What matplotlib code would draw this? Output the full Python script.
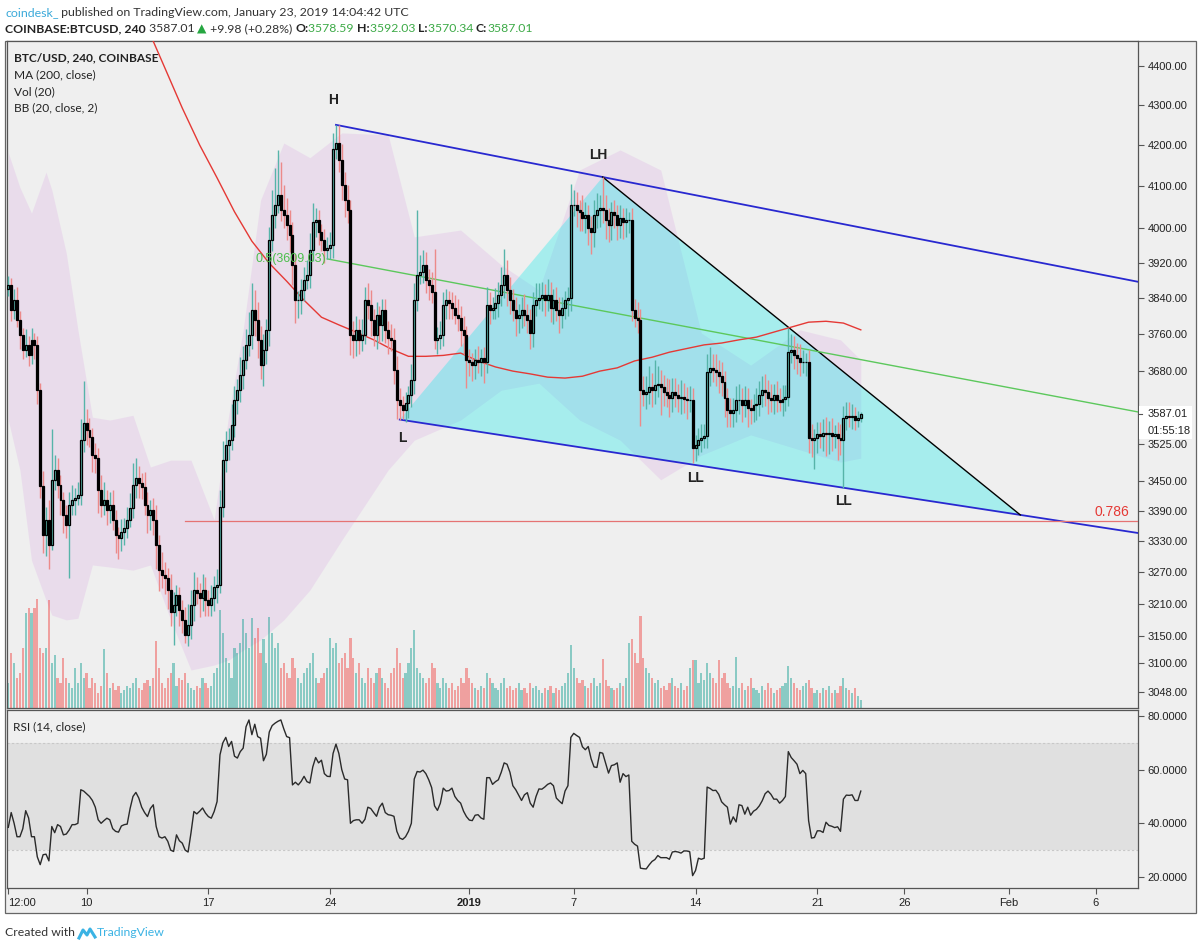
import numpy as np
import pandas as pd
import matplotlib
matplotlib.use("Agg")
import matplotlib.pyplot as plt
from matplotlib.patches import Rectangle, Polygon
from matplotlib.collections import PatchCollection
from matplotlib.lines import Line2D
from matplotlib.transforms import blended_transform_factory
from matplotlib.ticker import FixedLocator, NullLocator, FixedFormatter, NullFormatter

plt.rcParams['font.family'] = ['Liberation Sans', 'DejaVu Sans']

# ---------------- data (4h candles, COINBASE BTC/USD) ----------------
first_bar_time = '2018-12-05 12:00'
first_open = 3860.0
close = [
    3870, 3813, 3835, 3791, 3758, 3725, 3736, 3714, 3747, 3736,
    3638, 3440, 3342, 3372, 3322, 3452, 3472, 3441, 3412, 3382,
    3362, 3402, 3412, 3416, 3422, 3533, 3568, 3554, 3539, 3502,
    3496, 3431, 3402, 3412, 3391, 3402, 3372, 3342, 3336, 3348,
    3356, 3372, 3395, 3441, 3456, 3446, 3438, 3402, 3382, 3391,
    3372, 3322, 3274, 3265, 3259, 3236, 3194, 3207, 3226, 3198,
    3180, 3152, 3170, 3207, 3236, 3230, 3221, 3236, 3217, 3207,
    3221, 3242, 3246, 3397, 3492, 3523, 3533, 3564, 3617, 3638,
    3670, 3703, 3736, 3758, 3813, 3791, 3747, 3692, 3725, 3769,
    3973, 4031, 4055, 4079, 4043, 4031, 4007, 3984, 3915, 3835,
    3835, 3858, 3881, 3892, 3949, 4014, 4019, 3991, 3973, 3949,
    3954, 3961, 4190, 4205, 4163, 4103, 4067, 4043, 3758, 3747,
    3769, 3747, 3758, 3835, 3824, 3791, 3758, 3802, 3780, 3813,
    3769, 3751, 3747, 3681, 3617, 3606, 3596, 3610, 3627, 3660,
    3835, 3892, 3899, 3915, 3881, 3870, 3853, 3747, 3751, 3758,
    3824, 3835, 3828, 3817, 3802, 3796, 3769, 3758, 3703, 3699,
    3692, 3703, 3699, 3707, 3699, 3824, 3813, 3817, 3828, 3847,
    3870, 3892, 3858, 3835, 3813, 3796, 3802, 3813, 3802, 3791,
    3762, 3824, 3835, 3840, 3847, 3835, 3847, 3817, 3835, 3813,
    3802, 3817, 3835, 3840, 4055, 4055, 4043, 4038, 4024, 4031,
    4000, 3991, 4031, 4043, 4048, 4043, 4019, 4007, 4038, 4031,
    4007, 4024, 4014, 4019, 4019, 3813, 3796, 3791, 3638, 3629,
    3634, 3645, 3638, 3649, 3651, 3645, 3634, 3627, 3622, 3634,
    3627, 3622, 3624, 3620, 3617, 3617, 3517, 3523, 3533, 3537,
    3541, 3677, 3686, 3681, 3677, 3668, 3655, 3622, 3596, 3590,
    3596, 3617, 3617, 3606, 3617, 3600, 3596, 3606, 3608, 3627,
    3638, 3634, 3622, 3617, 3627, 3617, 3613, 3620, 3624, 3721,
    3725, 3714, 3707, 3699, 3699, 3699, 3537, 3533, 3537, 3545,
    3541, 3547, 3545, 3549, 3541, 3545, 3537, 3533, 3579, 3583,
    3581, 3583, 3575, 3578.59, 3587.01,
]
up_wick = [
    20, 15, 25, 30, 20, 15, 35, 20, 25, 15,
    20, 15, 30, 25, 40, 104, 30, 25, 20, 15,
    20, 25, 30, 20, 25, 45, 90, 30, 25, 20,
    25, 20, 30, 35, 20, 25, 30, 20, 15, 25,
    20, 25, 30, 45, 40, 25, 20, 30, 25, 20,
    25, 30, 20, 35, 25, 20, 30, 25, 20, 15,
    20, 25, 40, 30, 35, 25, 20, 30, 25, 20,
    25, 20, 30, 35, 40, 30, 25, 45, 30, 25,
    40, 30, 35, 50, 60, 45, 40, 30, 35, 25,
    30, 60, 90, 110, 80, 60, 40, 35, 30, 25,
    20, 25, 30, 35, 40, 45, 30, 25, 20, 25,
    25, 30, 40, 45, 45, 40, 30, 35, 25, 30,
    30, 25, 35, 30, 40, 35, 25, 30, 20, 25,
    25, 20, 30, 25, 30, 25, 20, 25, 20, 35,
    40, 150, 40, 35, 30, 25, 30, 98, 25, 30,
    30, 25, 20, 25, 30, 35, 25, 30, 20, 25,
    20, 25, 30, 20, 25, 40, 30, 25, 35, 30,
    40, 60, 35, 30, 25, 30, 25, 30, 35, 25,
    25, 30, 40, 35, 30, 25, 35, 30, 25, 30,
    30, 25, 20, 25, 50, 35, 30, 25, 40, 30,
    25, 30, 35, 40, 30, 75, 35, 30, 25, 30,
    25, 30, 25, 30, 20, 30, 25, 35, 25, 30,
    35, 45, 30, 55, 40, 30, 25, 30, 35, 30,
    30, 25, 35, 30, 25, 30, 25, 20, 25, 30,
    25, 40, 45, 30, 35, 25, 30, 25, 20, 25,
    25, 30, 35, 25, 30, 25, 20, 25, 35, 30,
    30, 35, 25, 30, 25, 30, 25, 30, 25, 51,
    35, 30, 25, 30, 25, 20, 25, 30, 20, 25,
    25, 30, 35, 25, 30, 20, 25, 30, 25, 30,
    30, 25, 20, 15, 5.02,
]
dn_wick = [
    15, 25, 20, 15, 30, 20, 15, 25, 20, 30,
    30, 25, 35, 40, 45, 10, 20, 25, 30, 35,
    25, 103, 20, 30, 15, 20, 25, 30, 20, 35,
    30, 45, 25, 20, 30, 25, 20, 35, 40, 25,
    25, 20, 15, 20, 25, 30, 25, 20, 35, 30,
    30, 45, 40, 25, 30, 35, 25, 60, 20, 30,
    25, 15, 20, 25, 30, 20, 35, 25, 30, 20,
    20, 25, 30, 15, 20, 25, 30, 20, 25, 30,
    25, 30, 20, 25, 30, 35, 40, 30, 45, 30,
    35, 25, 30, 20, 25, 30, 35, 40, 45, 50,
    40, 30, 25, 20, 30, 25, 35, 30, 25, 30,
    20, 25, 30, 25, 30, 35, 40, 30, 45, 40,
    35, 30, 25, 20, 30, 35, 25, 30, 40, 35,
    30, 35, 25, 30, 40, 30, 19, 25, 30, 25,
    30, 25, 20, 25, 30, 35, 25, 20, 30, 25,
    25, 30, 35, 25, 20, 30, 35, 45, 60, 30,
    35, 30, 25, 30, 45, 25, 30, 20, 25, 30,
    25, 30, 35, 30, 25, 40, 35, 30, 25, 30,
    35, 30, 25, 20, 30, 35, 25, 30, 35, 25,
    40, 30, 25, 35, 30, 25, 40, 45, 30, 35,
    40, 50, 35, 30, 40, 30, 45, 40, 35, 30,
    35, 30, 40, 35, 30, 25, 20, 30, 75, 25,
    30, 25, 35, 30, 25, 60, 30, 25, 40, 30,
    25, 30, 35, 30, 40, 25, 30, 27, 20, 25,
    20, 25, 30, 25, 30, 35, 30, 40, 35, 30,
    30, 25, 30, 35, 25, 40, 30, 25, 30, 25,
    25, 30, 35, 25, 30, 25, 20, 30, 25, 20,
    25, 30, 35, 30, 25, 30, 30, 35, 60, 30,
    25, 30, 45, 40, 30, 25, 45, 30, 97, 25,
    20, 25, 20, 15, 8.25,
]
volume = [
    25, 55, 45, 30, 35, 60, 95, 100, 95, 100,
    109, 60, 55, 60, 108, 45, 53, 30, 25, 50,
    30, 25, 20, 40, 25, 45, 30, 35, 20, 30,
    25, 15, 22, 59, 35, 20, 25, 18, 22, 15,
    18, 22, 20, 25, 30, 20, 18, 25, 28, 22,
    30, 67, 40, 25, 20, 30, 35, 45, 22, 30,
    28, 35, 25, 20, 18, 22, 20, 30, 25, 20,
    22, 35, 40, 98, 75, 50, 45, 30, 60, 55,
    65, 89, 75, 60, 90, 70, 80, 55, 69, 45,
    91, 75, 60, 65, 40, 45, 35, 30, 50, 40,
    30, 25, 35, 40, 45, 55, 30, 25, 30, 35,
    40, 70, 60, 65, 45, 50, 55, 40, 70, 50,
    35, 45, 30, 25, 40, 30, 25, 35, 40, 30,
    25, 20, 35, 40, 60, 45, 30, 35, 45, 60,
    78, 40, 35, 30, 25, 30, 45, 40, 25, 20,
    30, 25, 20, 25, 18, 22, 30, 25, 40, 30,
    25, 20, 18, 22, 20, 35, 30, 25, 20, 18,
    25, 30, 20, 22, 18, 20, 25, 18, 20, 15,
    25, 20, 22, 18, 15, 20, 18, 22, 15, 20,
    18, 22, 25, 35, 63, 40, 30, 25, 28, 22,
    20, 25, 30, 22, 25, 49, 28, 22, 20, 18,
    20, 25, 22, 30, 65, 69, 55, 45, 92, 50,
    40, 35, 30, 25, 28, 20, 22, 18, 25, 30,
    22, 20, 25, 18, 22, 40, 48, 48, 25, 35,
    28, 45, 35, 30, 25, 48, 30, 35, 25, 20,
    22, 51, 20, 25, 18, 22, 30, 20, 18, 15,
    22, 18, 25, 20, 15, 18, 20, 22, 25, 42,
    30, 25, 20, 18, 22, 25, 28, 20, 15, 18,
    15, 20, 18, 22, 15, 18, 15, 22, 30, 20,
    18, 15, 20, 12, 8,
]
rsi = [
    38.5, 44, 40, 35, 35, 38, 44.7, 42, 35, 35,
    27.5, 24.6, 28.3, 28.5, 26, 38.8, 36.5, 39.5, 38.8, 35.7,
    36, 37.5, 39.5, 39.5, 40, 52.5, 52, 51, 50, 48.5,
    46, 41.3, 40, 41, 41.9, 41.3, 38, 37, 36.7, 39,
    39.5, 39.7, 45.5, 50, 51.5, 49.4, 46, 44, 42.5, 45.5,
    46.9, 38.8, 35, 34.5, 35, 33.3, 30, 29.5, 35.7, 33.5,
    32.6, 30, 29.3, 36.4, 44.4, 43.5, 44.5, 45.7, 43.8, 42.5,
    41.9, 44.4, 48.1, 65.5, 70, 72, 68.6, 70.5, 65, 64.3,
    66.7, 68, 76, 78.5, 73, 76.9, 72.3, 71.7, 63.3, 65.7,
    74, 76.4, 77.3, 78, 78.5, 75.2, 72.3, 71.9, 54.3, 55.3,
    54.3, 55.6, 57.5, 55.5, 55, 61, 64.5, 62.5, 63.5, 58.5,
    57.5, 57.4, 66, 69.5, 66, 60, 56.5, 56.2, 40, 41,
    41.3, 41.3, 40, 41.5, 46, 45.5, 44, 42.6, 46, 47.5,
    44, 43.2, 43, 42.6, 37, 34.5, 34, 35, 37, 40,
    56.5, 59.3, 59.1, 59.8, 58.5, 56.2, 53.3, 46.5, 44.8, 47.5,
    53.1, 52, 52.2, 53.1, 50, 48.5, 47.5, 44.5, 42.5, 41.2,
    41, 43, 43.2, 42, 41.5, 57, 57, 54.5, 55.5, 56.2,
    59, 62.5, 62, 59, 54, 52.5, 50.5, 48.5, 50.6, 51.4,
    47.5, 46, 50, 52.8, 52.7, 53.5, 54.5, 55, 54, 49.4,
    48.3, 47.3, 52, 54, 72, 73.5, 72.7, 72, 68.5, 67.4,
    68.6, 64, 61, 60.8, 66.4, 66.1, 62.4, 58.7, 61.5, 61.8,
    62.5, 55.3, 58.5, 57.4, 58, 33.3, 32.2, 31.5, 23.3, 23.1,
    23, 24.5, 25.8, 26.5, 28, 27.2, 27.2, 27.2, 26.6, 29.3,
    29.5, 29.3, 28.9, 29.7, 29.7, 29.4, 20.5, 22.4, 27, 26.6,
    27, 53.5, 53, 52.2, 52.3, 50.8, 48, 46.9, 46, 39.7,
    42.4, 40.5, 46.9, 46.6, 43.4, 46, 43, 44.5, 45.2, 46.5,
    48.4, 51, 52, 50.8, 49, 49, 47.5, 48.5, 50, 66.7,
    64.5, 63.3, 62, 58.5, 59.7, 58.5, 41, 34.5, 34.7, 37.2,
    37.2, 36.6, 40.4, 39.2, 38.9, 38.4, 38.7, 37, 49, 50.5,
    50.4, 50.6, 48.5, 48.5, 52,
]
# MA(200) sampled once a day (candle index, value)
ma_idx = [42, 48, 54, 60, 66, 72, 78, 84, 90, 96, 102, 108, 114, 120, 126, 132, 138, 144,
          150, 156, 162, 168, 174, 180, 186, 192, 198, 204, 210, 216, 222, 228, 234, 240,
          246, 252, 258, 264, 270, 276, 282, 288, 294]
ma_val = [4600, 4498, 4394, 4292, 4200, 4120, 4039, 3970, 3919, 3878, 3835, 3797, 3780, 3764,
          3747, 3727, 3711, 3711, 3713, 3718, 3701, 3688, 3679, 3673, 3666, 3664, 3668, 3679,
          3686, 3701, 3709, 3720, 3728, 3736, 3740, 3747, 3753, 3764, 3775, 3786, 3788, 3784, 3769]
# Bollinger bands (20, 2) sampled
bb_idx = [0, 4, 8, 13, 15, 20, 24, 29, 35, 43, 49, 56, 63, 71, 76, 81, 87, 95, 104, 115,
          131, 140, 156, 170, 183, 197, 211, 225, 239, 256, 273, 287, 294]
bb_upper = [4181, 4097, 4036, 4134, 4091, 3942, 3769, 3581, 3575, 3585, 3478, 3492, 3492,
            3372, 3585, 3769, 4067, 4205, 4169, 4230, 4225, 3980, 3996, 3915, 3858, 4139,
            4188, 4139, 3762, 3692, 3769, 3747, 3703]
bb_lower = [3575, 3472, 3293, 3217, 3189, 3180, 3183, 3284, 3280, 3274, 3284, 3180, 3088,
            3097, 3106, 3124, 3143, 3180, 3236, 3332, 3472, 3533, 3575, 3638, 3653, 3575,
            3533, 3452, 3502, 3544, 3513, 3488, 3496]

price_ticks = [4400, 4300, 4200, 4100, 4000, 3920, 3840, 3760, 3680, 3525, 3450, 3390,
               3330, 3270, 3210, 3150, 3100, 3048]
rsi_ticks = [20, 40, 60, 80]
date_ticks = ['2018-12-05 12:00', '2018-12-10', '2018-12-17', '2018-12-24', '2019-01-01',
              '2019-01-07', '2019-01-14', '2019-01-21', '2019-01-26', '2019-02-01', '2019-02-06']
date_labels = ['12:00', '10', '17', '24', '2019', '7', '14', '21', '26', 'Feb', '6']

# drawing anchors (candle index, price)
H_pt = (113, 4250)
LH_pt = (205, 4122)
L_pt = (135, 3576)
LL2_pt = (288, 3436)
apex_idx = 349
fib05_start = (110, 3929)
fib05_end_price = 3592
fib786_price = 3370
fib786_start = 61
last_price = 3587.01
countdown = '01:55:18'

# ---------------- layout ----------------
W, Hh = 1200, 948
fig = plt.figure(figsize=(W / 100, Hh / 100), dpi=100)
fig.patch.set_facecolor('white')


def fr(x0, y0, x1, y1):
    return [x0 / W, 1 - y1 / Hh, (x1 - x0) / W, (y1 - y0) / Hh]


BG = '#efefef'
fig.add_artist(Rectangle((5 / W, 1 - 913 / Hh), 1191 / W, 872 / Hh, transform=fig.transFigure,
                         facecolor=BG, edgecolor='#666666', lw=0.9, zorder=-5))

ax = fig.add_axes(fr(7, 41, 1138, 708))
axr = fig.add_axes(fr(7, 710, 1138, 888))
for a in (ax, axr):
    a.set_facecolor(BG)
    for s in a.spines.values():
        s.set_color('#555555')
        s.set_linewidth(0.9)

n = len(close)
x = np.arange(n)
c = np.array(close, float)
o = np.concatenate([[first_open], c[:-1]])
hi = np.maximum(o, c) + np.array(up_wick, float)
lo = np.minimum(o, c) - np.array(dn_wick, float)
up = c >= o

XL = (-0.45, 389.6)
ax.set_xlim(*XL)
ax.set_yscale('log')
ax.set_ylim(3020, 4464)

# Bollinger fill
ax.fill_between(bb_idx, bb_lower, bb_upper, color='#e1bee7', alpha=0.38, lw=0, zorder=1)

# volume
vol_top = 667.0
tv = blended_transform_factory(ax.transData, ax.transAxes)
rects = [Rectangle((xi - 0.38, 0), 0.76, v / vol_top) for xi, v in zip(x, volume)]
vcols = [(0.149, 0.651, 0.604, 0.5) if u else (0.937, 0.325, 0.314, 0.5) for u in up]
pc = PatchCollection(rects, facecolors=vcols, edgecolors='none', transform=tv, zorder=2)
ax.add_collection(pc, autolim=False)


def line_price(p1, p2, i):
    (i1, v1), (i2, v2) = p1, p2
    return float(np.exp(np.log(v1) + (np.log(v2) - np.log(v1)) * (i - i1) / (i2 - i1)))


apex = (apex_idx, line_price(L_pt, LL2_pt, apex_idx))
ax.add_patch(Polygon([L_pt, LH_pt, apex], closed=True, facecolor=(0.0, 0.92, 0.92, 0.3),
                     edgecolor='none', zorder=3))

# trend lines
xr = XL[1]
ax.plot([H_pt[0], xr], [H_pt[1], line_price(H_pt, LH_pt, xr)], color='#2828d0', lw=1.3, zorder=4)
ax.plot([L_pt[0], xr], [L_pt[1], line_price(L_pt, LL2_pt, xr)], color='#2828d0', lw=1.3, zorder=4)
ax.plot([LH_pt[0], apex[0]], [LH_pt[1], apex[1]], color='black', lw=1.0, zorder=4)
ax.plot([fib05_start[0], xr], [fib05_start[1], fib05_end_price], color='#5cc85c', lw=1.0, zorder=4)
ax.plot([fib786_start, xr], [fib786_price, fib786_price], color='#e57373', lw=0.9, zorder=4)
ax.plot(ma_idx, ma_val, color='#e53935', lw=1.0, zorder=4.5)

# candles
ax.vlines(x[up], lo[up], hi[up], color='#56b4a9', lw=1.0, zorder=5)
ax.vlines(x[~up], lo[~up], hi[~up], color='#ec8a8a', lw=1.0, zorder=5)
body_h = np.maximum(np.abs(c - o), 0.6)
ax.bar(x, body_h, bottom=np.minimum(o, c), width=0.68,
       color=['none' if u else 'black' for u in up], edgecolor='black', linewidth=0.9, zorder=6)

# labels on drawings
lab = dict(fontsize=10, fontweight='bold', color='#222222', ha='center', va='center', zorder=8)
ax.text(112, 4312, 'H', **lab)
ax.text(203.5, 4175, 'LH', **lab)
ax.text(136, 3538, 'L', **lab)
ax.text(237, 3455, 'LL', **lab)
ax.text(288, 3409, 'LL', **lab)
ax.text(fib05_start[0] - 0.3, fib05_start[1], '0.5(3609.03)', color='#4cbf4c', fontsize=9,
        ha='right', va='center', zorder=8)
ax.text(386.5, fib786_price * 1.0008, '0.786', color='#e53935', fontsize=10, ha='right',
        va='bottom', zorder=8)

# legend texts
LF = ['Lato', 'DejaVu Sans']
leg = dict(fontsize=8.6, color='#222222', ha='left', va='center', family=LF)
fig.text(14 / W, 1 - 58 / Hh, 'BTC/USD, 240, COINBASE', fontweight='bold', **leg)
fig.text(14 / W, 1 - 75 / Hh, 'MA (200, close)', **leg)
fig.text(14 / W, 1 - 92 / Hh, 'Vol (20)', **leg)
fig.text(14 / W, 1 - 108 / Hh, 'BB (20, close, 2)', **leg)
fig.text(13 / W, 1 - 727 / Hh, 'RSI (14, close)', **leg)

# price axis
ax.yaxis.set_major_locator(FixedLocator(price_ticks))
ax.yaxis.set_minor_locator(NullLocator())
ax.yaxis.set_major_formatter(FixedFormatter([f'{p:.2f}' for p in price_ticks]))
ax.yaxis.set_minor_formatter(NullFormatter())
ax.yaxis.tick_right()
ax.tick_params(axis='y', which='both', direction='out', length=4, width=0.8, colors='#555555',
               labelcolor='#222222', labelsize=8, pad=3)
ax.set_xticks([])

# RSI pane
axr.set_xlim(*XL)
axr.set_ylim(15.9, 82.2)
axr.axhspan(30, 70, color='#e0e0e0', lw=0, zorder=0)
axr.axhline(70, color='#c8c8c8', lw=0.8, ls=(0, (2, 2)), zorder=1)
axr.axhline(30, color='#c8c8c8', lw=0.8, ls=(0, (2, 2)), zorder=1)
axr.plot(x, rsi, color='#2a2a2a', lw=1.0, zorder=3)
axr.yaxis.tick_right()
axr.set_yticks(rsi_ticks)
axr.set_yticklabels([f'{v:.4f}' for v in rsi_ticks])
axr.tick_params(axis='y', direction='out', length=4, width=0.8, colors='#555555',
                labelcolor='#222222', labelsize=8, pad=3)
t0 = pd.Timestamp(first_bar_time)
tick_pos = [(pd.Timestamp(d) - t0) / pd.Timedelta(hours=4) for d in date_ticks]
axr.set_xticks(tick_pos)
axr.set_xticklabels(date_labels)
axr.tick_params(axis='x', direction='out', length=4, width=0.8, colors='#555555',
                labelcolor='#222222', labelsize=8, pad=3)
for lbl in axr.get_xticklabels():
    if lbl.get_text() == '2019':
        lbl.set_fontweight('bold')
    if lbl.get_text() == '12:00':
        lbl.set_horizontalalignment('left')
        lbl.set_x(-0.2)

# current price / countdown box
ypix = ax.transData.transform((0, last_price))[1]
ytop = Hh - ypix
fig.add_artist(Rectangle((1139 / W, 1 - (ytop + 25) / Hh), 53 / W, 33 / Hh,
                         transform=fig.transFigure, facecolor='white', edgecolor='none', zorder=5))
fig.text(1148 / W, 1 - ytop / Hh, f'{last_price:.2f}', fontsize=8, color='#222222',
         ha='left', va='center', zorder=6)
fig.text(1148 / W, 1 - (ytop + 17) / Hh, countdown, fontsize=8, color='#222222',
         ha='left', va='center', zorder=6)
fig.add_artist(Line2D([1138 / W, 1142 / W], [1 - ytop / Hh, 1 - ytop / Hh], color='#555555',
                      lw=0.8, zorder=6))

# header with mixed colours
renderer = fig.canvas.get_renderer()


def seq_text(x0, y0, parts, size):
    xx = x0
    for s, col, wt, fam in parts:
        t = fig.text(xx / W, 1 - y0 / Hh, s, color=col, fontsize=size, fontweight=wt,
                     family=fam, ha='left', va='center')
        xx += t.get_window_extent(renderer=renderer).width


GR = '#3daa47'
seq_text(5, 13, [('coindesk_', '#3ba9d9', 'normal', LF),
                 (' published on TradingView.com, January 23, 2019 14:04:42 UTC', '#333333', 'normal', LF)], 8.9)
seq_text(5, 29, [('COINBASE:BTCUSD, 240', '#222222', 'bold', LF),
                 (' 3587.01 ', '#333333', 'normal', LF),
                 ('\u25b2', '#26a641', 'normal', ['DejaVu Sans']),
                 (' +9.98 (+0.28%) ', '#333333', 'normal', LF),
                 ('O:', '#222222', 'bold', LF), ('3578.59 ', GR, 'normal', LF),
                 ('H:', '#222222', 'bold', LF), ('3592.03 ', GR, 'normal', LF),
                 ('L:', '#222222', 'bold', LF), ('3570.34 ', GR, 'normal', LF),
                 ('C:', '#222222', 'bold', LF), ('3587.01', GR, 'normal', LF)], 8.8)

# footer
fig.text(5 / W, 1 - 933 / Hh, 'Created with', fontsize=8.8, color='#333333', family=LF,
         ha='left', va='center')
fig.add_artist(Line2D(np.array([79, 83, 87, 90, 95]) / W,
                      1 - np.array([938, 930, 935, 929, 937]) / Hh,
                      color='#3bb3e4', lw=2.2, zorder=5))
fig.text(97 / W, 1 - 933 / Hh, 'TradingView', fontsize=8.8, color='#3bb3e4', family=LF,
         ha='left', va='center')

fig.savefig('out.png', dpi=100)
